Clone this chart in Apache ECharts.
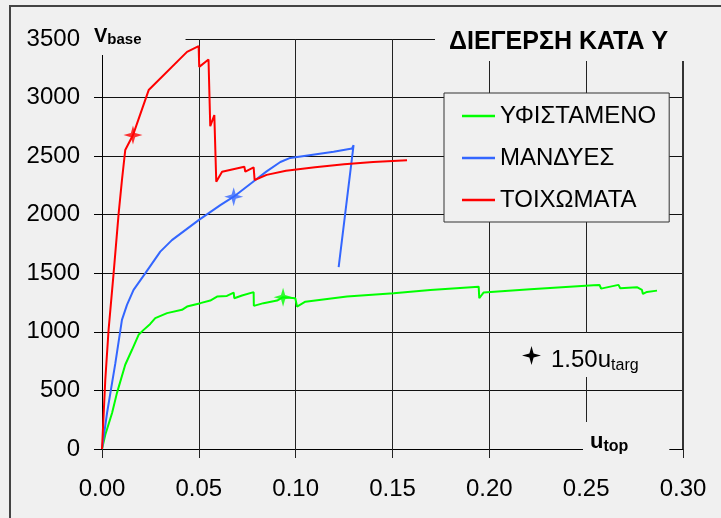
<!DOCTYPE html>
<html><head><meta charset="utf-8">
<script src="https://cdn.jsdelivr.net/npm/echarts@6/dist/echarts.min.js"></script>
<style>html,body{margin:0;padding:0;background:#f0f0f0;}#c{width:721px;height:518px;}</style>
</head><body><div id="c"></div>
<script>
// ---- data ----
const seriesNames = ['ΥΦΙΣΤΑΜΕΝΟ', 'ΜΑΝΔΥΕΣ', 'ΤΟΙΧΩΜΑΤΑ'];
const seriesColors = ['#00ff00', '#3366ff', '#ff0000'];
const ufistameno = [
  [0,0],[0.0017,122],[0.0052,307],[0.0077,477],[0.0120,719],[0.0155,847],[0.0189,975],
  [0.0215,1017],[0.0249,1068],[0.0275,1117],[0.0336,1160],[0.0413,1188],[0.0439,1216],
  [0.0508,1245],[0.0559,1267],[0.0594,1301],[0.0645,1307],[0.0680,1335],[0.0683,1287],
  [0.0723,1310],[0.0783,1339],[0.0784,1222],[0.0834,1245],[0.0904,1267],[0.0935,1296],
  [0.0998,1287],[0.1007,1216],[0.1050,1258],[0.1265,1301],[0.1506,1330],[0.1695,1358],
  [0.1945,1386],[0.1948,1287],[0.1970,1335],[0.2211,1364],[0.2538,1398],[0.2569,1401],
  [0.2577,1369],[0.2667,1401],[0.2676,1373],[0.2762,1381],[0.2788,1358],[0.2793,1324],
  [0.2814,1341],[0.2866,1352]
];
const mandyes = [
  [0,0],[0.0026,307],[0.0069,733],[0.0103,1102],[0.0129,1230],[0.0163,1358],[0.0224,1501],
  [0.0301,1685],[0.0361,1783],[0.0499,1954],[0.0611,2082],[0.0680,2154],[0.0792,2296],
  [0.0850,2370],[0.0921,2450],[0.0972,2485],[0.1196,2537],[0.1291,2566],[0.1299,2594],
  [0.1222,1552]
];
const toixomata = [
  [0,0],[0.0017,591],[0.0034,1017],[0.0060,1501],[0.0086,2012],[0.0103,2296],[0.0120,2552],
  [0.0160,2680],[0.0241,3064],[0.0439,3390],[0.0499,3439],[0.0502,3262],[0.0550,3325],
  [0.0559,2756],[0.0580,2850],[0.0590,2282],[0.0620,2367],[0.0735,2409],[0.0740,2367],
  [0.0783,2404],[0.0788,2296],[0.0850,2340],[0.0950,2375],[0.1100,2405],[0.1250,2430],
  [0.1400,2450],[0.1575,2465]
];
const targetName = '1.50u_targ';
const targetPoints = [[0.0160,2680],[0.0680,2154],[0.0935,1296]];
const targetColors = ['#ff0000', '#3366ff', '#00ff00'];
const xMin = 0, xMax = 0.30, xStep = 0.05;
const yMin = 0, yMax = 3500, yStep = 500;

// ---- chart ----
const FONT = 'Liberation Sans, Arial, sans-serif';
const star = 'path://M0,-10 L2.2,-2.2 L10,0 L2.2,2.2 L0,10 L-2.2,2.2 L-10,0 L-2.2,-2.2 Z';
const chart = echarts.init(document.getElementById('c'), null, {renderer: 'canvas'});
const lines = [ufistameno, mandyes, toixomata].map((d, i) => ({
  name: seriesNames[i], type: 'line', data: d, symbol: 'none', showSymbol: false,
  lineStyle: {color: seriesColors[i], width: 2}, itemStyle: {color: seriesColors[i]},
  z: 3 + i, animation: false
}));
const option = {
  backgroundColor: '#f0f0f0',
  animation: false,
  textStyle: {fontFamily: FONT},
  grid: {left: 102, top: 39, width: 581, height: 410, containLabel: false},
  title: [
    {text: 'ΔΙΕΓΕΡΣΗ ΚΑΤΑ Υ', left: 435, top: 23, padding: [7, 34, 6, 14], z: 1,
     backgroundColor: '#f0f0f0',
     textStyle: {fontFamily: FONT, fontSize: 25, fontWeight: 'bold', color: '#000'}},
    {text: '{v|V}{s|base}', left: 88, top: 22, padding: [3, 44, 8, 6], backgroundColor: '#f0f0f0', z: 1,
     textStyle: {rich: {
       v: {fontFamily: FONT, fontSize: 20, fontWeight: 'bold', color: '#000', lineHeight: 22},
       s: {fontFamily: FONT, fontSize: 15, fontWeight: 'bold', color: '#000', lineHeight: 14, verticalAlign: 'bottom'}
     }}},
    {text: '{u|u}{s|top}', left: 583, top: 420, padding: [9, 41, 6, 7], backgroundColor: '#f0f0f0', z: 1,
     textStyle: {rich: {
       u: {fontFamily: FONT, fontSize: 22, fontWeight: 'bold', color: '#000', lineHeight: 26},
       s: {fontFamily: FONT, fontSize: 16, fontWeight: 'bold', color: '#000', lineHeight: 16, verticalAlign: 'bottom'}
     }}}
  ],
  legend: [
    {data: seriesNames.map(n => ({name: n, icon: 'rect'})), orient: 'vertical', left: 444, top: 93,
     padding: [11, 13, 10, 18],
     itemWidth: 33, itemHeight: 2.5, itemGap: 18, selectedMode: false,
     backgroundColor: '#f0f0f0', borderColor: '#333', borderWidth: 1, borderRadius: 0,
     textStyle: {fontFamily: FONT, fontSize: 24, color: '#000', lineHeight: 24}},
    {data: [{name: targetName, icon: star, itemStyle: {color: '#000', opacity: 1, borderWidth: 0}}],
     orient: 'vertical', left: 514, top: 333, padding: [13, 10, 3, 8],
     itemWidth: 19, itemHeight: 19, selectedMode: false, backgroundColor: '#f0f0f0',
     formatter: () => '{a|1.50u}{b|targ}',
     textStyle: {padding: [9, 0, 0, 5], rich: {
       a: {fontFamily: FONT, fontSize: 24, color: '#000', lineHeight: 28},
       b: {fontFamily: FONT, fontSize: 16, color: '#000', lineHeight: 16, verticalAlign: 'bottom'}
     }}}
  ],
  xAxis: {
    type: 'value', min: xMin, max: xMax, interval: xStep,
    axisLine: {show: true, onZero: false, lineStyle: {color: '#000', width: 1}},
    axisTick: {show: true, length: 9, lineStyle: {color: '#222'}},
    splitLine: {show: true, lineStyle: {color: '#222', width: 1}},
    axisLabel: {fontFamily: FONT, fontSize: 24, color: '#000', margin: 28,
      formatter: v => v.toFixed(2)}
  },
  yAxis: [
    {type: 'value', min: yMin, max: yMax, interval: yStep,
     axisLine: {show: true, lineStyle: {color: '#000', width: 1}},
     axisTick: {show: true, length: 8, lineStyle: {color: '#000'}},
     splitLine: {show: true, lineStyle: {color: '#111', width: 1}},
     axisLabel: {fontFamily: FONT, fontSize: 24, color: '#000', margin: 22,
      formatter: v => String(v)}},
    {type: 'value', min: yMin, max: yMax, interval: yStep, position: 'right',
     axisLine: {show: true, lineStyle: {color: '#333', width: 2}},
     axisTick: {show: false}, splitLine: {show: false}, axisLabel: {show: false}}
  ],
  graphic: [{type: 'rect', z: -10, silent: true,
    shape: {x: 10, y: 6, width: 740, height: 540},
    style: {fill: 'none', stroke: '#444', lineWidth: 2}}],
  series: lines.concat([{
    name: targetName, type: 'scatter', symbol: star, symbolSize: 19, z: 10,
    data: targetPoints.map((p, i) => ({value: p, itemStyle: {color: targetColors[i]}})),
    animation: false
  }])
};
chart.setOption(option);
</script></body></html>
